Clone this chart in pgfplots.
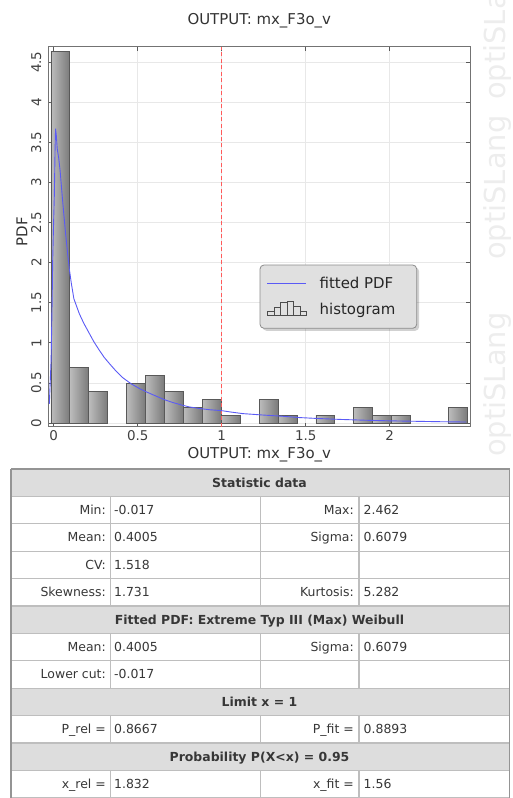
\documentclass[border=0pt]{standalone}
\usepackage{fontspec}
\setmainfont{DejaVu Sans}
\usepackage{pgfplots}
\pgfplotsset{compat=1.18}
\definecolor{fitblue}{RGB}{90,90,245}
\definecolor{limred}{RGB}{255,90,90}
\definecolor{hdr}{RGB}{221,221,221}
\definecolor{cellline}{RGB}{190,190,190}
\definecolor{txt}{RGB}{55,55,55}
\definecolor{wm}{RGB}{237,237,237}
\pgfplotsset{
  fitlegend/.style={legend image code/.code={\fill[sharp corners,fill=fitblue,draw=none] (0bp,-0.55bp) rectangle (39bp,0.55bp);}},
  histlegend/.style={legend image code/.code={
    \draw[sharp corners,color=black!70,line width=0.6bp] (0bp,-6bp) -- (39bp,-6bp);
    \draw[sharp corners,color=black!70,line width=0.6bp] (0bp,-6bp) rectangle (6.5bp,-2bp);
    \draw[sharp corners,color=black!70,line width=0.6bp] (6.5bp,-6bp) rectangle (13bp,2bp);
    \draw[sharp corners,color=black!70,line width=0.6bp] (13bp,-6bp) rectangle (19.5bp,7bp);
    \draw[sharp corners,color=black!70,line width=0.6bp] (19.5bp,-6bp) rectangle (26bp,8bp);
    \draw[sharp corners,color=black!70,line width=0.6bp] (26bp,-6bp) rectangle (32.5bp,3bp);
    \draw[sharp corners,color=black!70,line width=0.6bp] (32.5bp,-6bp) rectangle (39bp,-2bp);
  }},
  histbar/.style={ybar, bar width=0.11268, bar shift=0pt, draw=black!65, line width=0.7bp,
    left color=black!26, right color=black!52, forget plot},
}
\tikzset{tabtxt/.style={font=\fontsize{12.5}{14}\selectfont, text=txt, inner sep=0pt}}
\newcommand\trow[5]{%
  \node[tabtxt, anchor=base east] at (106,{469+27.4*#1+18.2}) {#2};
  \node[tabtxt, anchor=base west] at (114,{469+27.4*#1+18.2}) {#3};
  \node[tabtxt, anchor=base east] at (354,{469+27.4*#1+18.2}) {#4};
  \node[tabtxt, anchor=base west] at (363.5,{469+27.4*#1+18.2}) {#5};
}
\begin{document}
\begin{tikzpicture}
\useasboundingbox (0bp,0bp) rectangle (513bp,798bp);
% watermark
\begin{scope}[shift={(0bp,798bp)}, x=1bp, y=-1bp]
\foreach \s in {457,260,100} {
  \node[rotate=90, anchor=base west, inner sep=0pt, text=wm, font=\fontsize{29}{30}\selectfont] at (505,\s) {optiSLang};
}
\end{scope}

\begin{axis}[
  at={(48.5bp,371bp)}, anchor=south west,
  width=421.5bp, height=380bp, scale only axis,
  xmin=-0.031, xmax=2.478, ymin=-0.05, ymax=4.69,
  xtick={0,0.5,1,1.5,2},
  ytick={0,0.5,1,1.5,2,2.5,3,3.5,4,4.5},
  axis line style={draw=black!55, line width=1bp},
  every tick/.style={draw=black!65, line width=0.8bp},
  major tick length=4bp,
  tick align=inside,
  grid=major,
  major grid style={draw=black!9, line width=0.8bp},
  tick label style={font=\fontsize{13.5}{15}\selectfont, text=black!75},
  /pgf/number format/assume math mode=true,
  yticklabel style={rotate=90, anchor=south, inner xsep=0pt, inner ysep=7bp},
  title={OUTPUT: mx\_F3o\_v},
  every axis title/.style={at={(axis description cs:0.5,1.0605)}, anchor=base, font=\fontsize{15}{18}\selectfont, text=black!80, inner sep=0pt},
  xlabel={OUTPUT: mx\_F3o\_v},
  every axis x label/.style={at={(axis description cs:0.5,-0.0842)}, anchor=base, font=\fontsize{15}{18}\selectfont, text=black!80, inner sep=0pt},
  ylabel={PDF},
  every axis y label/.style={at={(axis description cs:-0.0629,0.514)}, anchor=center, rotate=90, font=\fontsize{15}{18}\selectfont, text=black!80, inner sep=0pt},
  legend style={at={(0.6877,0.343)}, anchor=center, draw=none, fill=none,
    font=\fontsize{15}{17}\selectfont,
    inner xsep=7bp, inner ysep=13bp, row sep=11bp, column sep=13bp,
    nodes={inner sep=0pt}},
  legend cell align=left,
]
% histogram (90 samples, bin width 0.11268), one plot per bin
\addplot[histbar] coordinates {(0.03934,4.634)};
\addplot[histbar] coordinates {(0.15202,0.6902)};
\addplot[histbar] coordinates {(0.26470,0.3944)};
\addplot[histbar] coordinates {(0.49006,0.4930)};
\addplot[histbar] coordinates {(0.60274,0.5916)};
\addplot[histbar] coordinates {(0.71542,0.3944)};
\addplot[histbar] coordinates {(0.82810,0.1972)};
\addplot[histbar] coordinates {(0.94078,0.2958)};
\addplot[histbar] coordinates {(1.05346,0.0986)};
\addplot[histbar] coordinates {(1.27882,0.2958)};
\addplot[histbar] coordinates {(1.39150,0.0986)};
\addplot[histbar] coordinates {(1.61686,0.0986)};
\addplot[histbar] coordinates {(1.84222,0.1972)};
\addplot[histbar] coordinates {(1.95490,0.0986)};
\addplot[histbar] coordinates {(2.06758,0.0986)};
\addplot[histbar] coordinates {(2.40562,0.1972)};
% limit line x = 1
\addplot[color=limred, draw=limred, line width=1.2bp, dash pattern=on 4bp off 2.5bp, forget plot]
  coordinates {(1,-0.05) (1,1.2) (1,2.4) (1,3.6) (1,4.69)};
% fitted PDF
\addplot[color=fitblue, line width=0.9bp, forget plot] coordinates {
  (-0.026,0.24) (-0.020,0.55) (-0.0155,0.78) (-0.0095,1.49) (-0.006,2.03)
  (0.000,2.55) (0.004,2.86) (0.008,3.40) (0.011,3.67) (0.015,3.60)
  (0.021,3.42) (0.030,3.30) (0.038,3.15) (0.044,3.00) (0.052,2.80)
  (0.060,2.61) (0.070,2.38) (0.083,2.11) (0.093,1.92) (0.105,1.74)
  (0.120,1.55) (0.153,1.36) (0.180,1.24) (0.2125,1.115) (0.240,1.01)
  (0.272,0.906) (0.300,0.82) (0.332,0.74) (0.370,0.65) (0.411,0.565)
  (0.460,0.49) (0.510,0.43) (0.560,0.38) (0.610,0.335) (0.660,0.29)
  (0.708,0.256) (0.760,0.225) (0.808,0.20) (0.870,0.18) (0.930,0.165)
  (0.996,0.155) (1.060,0.135) (1.125,0.117) (1.240,0.10) (1.363,0.084)
  (1.460,0.068) (1.562,0.057) (1.700,0.045) (1.860,0.034) (2.000,0.027)
  (2.157,0.021) (2.300,0.016) (2.455,0.012)
};
% legend box with soft shadow
\fill[black, opacity=0.18, rounded corners=4bp, xshift=2.5bp, yshift=-2.5bp]
  (axis description cs:0.5018,0.4263) rectangle (axis description cs:0.8735,0.2597);
\filldraw[fill=black!12, draw=black!45, line width=0.8bp, rounded corners=4bp]
  (axis description cs:0.5018,0.4263) rectangle (axis description cs:0.8735,0.2597);
\addlegendimage{fitlegend}
\addlegendentry{\makebox[90bp][l]{\color{black!85}fitted PDF}}
\addlegendimage{histlegend}
\addlegendentry{\color{black!85}histogram}
\end{axis}

% statistics table
\begin{scope}[shift={(0bp,798bp)}, x=1bp, y=-1bp]
\fill[white] (11,469) rectangle (509.5,798);
\foreach \r in {0,5,8,10} {
  \fill[hdr] (11,{469+27.4*\r}) rectangle (509.5,{469+27.4*(\r+1)});
}
\foreach \r in {0,...,12} {
  \draw[cellline, line width=1.2] (11,{469+27.4*\r}) -- (509.5,{469+27.4*\r});
}
\foreach \r in {1,2,3,4,6,7,9,11} {
  \foreach \c in {110.7,260.7,359} {
    \draw[cellline, line width=1.2] (\c,{469+27.4*\r}) -- (\c,{469+27.4*(\r+1)});
  }
}
\draw[black!42, line width=1.2] (11,469) -- (11,800) (509.5,469) -- (509.5,800) (11,469) -- (509.5,469);
% header rows
\node[tabtxt, anchor=base, font=\fontsize{12.5}{14}\selectfont\bfseries] at (259.5,{469+27.4*0+18.2}) {Statistic data};
\node[tabtxt, anchor=base, font=\fontsize{12.5}{14}\selectfont\bfseries] at (259.5,{469+27.4*5+18.2}) {Fitted PDF: Extreme Typ III (Max) Weibull};
\node[tabtxt, anchor=base, font=\fontsize{12.5}{14}\selectfont\bfseries] at (259.5,{469+27.4*8+18.2}) {Limit x = 1};
\node[tabtxt, anchor=base, font=\fontsize{12.5}{14}\selectfont\bfseries] at (259.5,{469+27.4*10+18.2}) {Probability P(X<x) = 0.95};
% data rows
\trow{1}{Min:}{-0.017}{Max:}{2.462}
\trow{2}{Mean:}{0.4005}{Sigma:}{0.6079}
\trow{3}{CV:}{1.518}{}{}
\trow{4}{Skewness:}{1.731}{Kurtosis:}{5.282}
\trow{6}{Mean:}{0.4005}{Sigma:}{0.6079}
\trow{7}{Lower cut:}{-0.017}{}{}
\trow{9}{P\_rel =}{0.8667}{P\_fit =}{0.8893}
\trow{11}{x\_rel =}{1.832}{x\_fit =}{1.56}
\end{scope}
\end{tikzpicture}
\end{document}
